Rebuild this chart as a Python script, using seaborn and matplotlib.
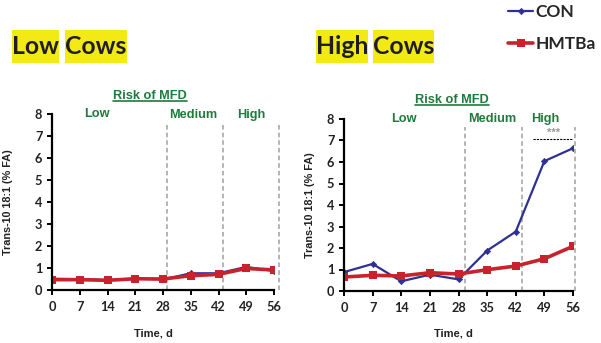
import matplotlib
matplotlib.use("Agg")
import matplotlib.pyplot as plt
from matplotlib.patches import Rectangle
from matplotlib.lines import Line2D
import numpy as np
import pandas as pd
import seaborn as sns

# ---- data -------------------------------------------------------------
days = [0, 7, 14, 21, 28, 35, 42, 49, 56]
groups = ["CON", "HMTBa"]

low_con = [0.51, 0.49, 0.45, 0.52, 0.48, 0.76, 0.76, 1.05, 0.86]
low_hmtba = [0.47, 0.47, 0.44, 0.51, 0.50, 0.65, 0.71, 0.98, 0.91]

high_con = [0.88, 1.26, 0.45, 0.76, 0.54, 1.88, 2.76, 6.04, 6.64]
high_hmtba = [0.65, 0.73, 0.70, 0.85, 0.79, 0.99, 1.16, 1.50, 2.08]

risk_labels = ["Low", "Medium", "High"]
xticks = days
yticks = list(range(0, 9))

# ---- style ------------------------------------------------------------
BLUE = "#2e3192"
RED = "#c8232c"
GREEN = "#1f7a3c"
YELLOW = "#f3ea15"
GREY = "#a0a0a0"
INK = "#222222"

sns.set_theme(style="white")
plt.rcParams["font.family"] = ["Lato", "DejaVu Sans"]
ARIAL = ["Liberation Sans", "DejaVu Sans"]

W, H = 601, 343
fig = plt.figure(figsize=(W / 100, H / 100), dpi=100)


def add_axes_px(x0, x1, ytop, ybot):
    return fig.add_axes([x0 / W, 1 - ybot / H, (x1 - x0) / W, (ybot - ytop) / H])


def frame(con, hmtba):
    return pd.DataFrame({
        "day": days * 2,
        "value": con + hmtba,
        "group": ["CON"] * len(days) + ["HMTBa"] * len(days),
    })


series_style = {
    "CON": dict(color=BLUE, marker="D", markersize=3.2, linewidth=1.6,
                markeredgewidth=0.5, markeredgecolor=BLUE),
    "HMTBa": dict(color=RED, marker="s", markersize=5.2, linewidth=2.6,
                  markeredgewidth=0, markeredgecolor=RED),
}

panels = [
    dict(ax=add_axes_px(52, 274, 114, 290), df=frame(low_con, low_hmtba),
         vlines=[29.0, 43.1, 57.3],
         region=[(11.3, 7.98), (35.6, 7.95), (50.2, 7.95)],
         ylab=(-0.176, 0.5), xlab=(0.455, -0.22), risk=(0.44, 1.10),
         stars=False),
    dict(ax=add_axes_px(344, 573, 119, 291), df=frame(high_con, high_hmtba),
         vlines=[29.5, 43.6, 56.6],
         region=[(14.6, 7.98), (36.3, 7.98), (49.2, 7.98)],
         ylab=(-0.127, 0.5), xlab=(0.476, -0.22), risk=(0.47, 1.11),
         stars=True),
]

risk_texts = []
for p in panels:
    ax = p["ax"]
    df = p["df"]
    for g in groups:
        sns.lineplot(data=df[df["group"] == g], x="day", y="value", ax=ax,
                     legend=False, label=g, **series_style[g])

    ax.set_xlim(0, 56)
    ax.set_ylim(0, 8)
    ax.set_xticks(xticks)
    ax.set_yticks(yticks)
    ax.set_xticklabels([str(d) for d in xticks], fontsize=9.2, fontweight="bold", color=INK)
    ax.set_yticklabels([str(v) for v in yticks], fontsize=9.2, fontweight="bold", color=INK)
    ax.tick_params(axis="both", which="both", bottom=True, left=True,
                   direction="out", length=3.5, width=1.4, color="black")
    ax.tick_params(axis="x", pad=4.5)
    ax.tick_params(axis="y", pad=3.5)
    sns.despine(ax=ax)
    for s in ("left", "bottom"):
        ax.spines[s].set_linewidth(1.6)
        ax.spines[s].set_color("black")

    ax.set_ylabel("Trans-10 18:1 (% FA)", fontsize=7.8, fontweight="bold",
                  color=INK, family=ARIAL)
    ax.set_xlabel("Time, d", fontsize=8, fontweight="bold", color=INK, family=ARIAL)
    ax.yaxis.set_label_coords(*p["ylab"])
    ax.xaxis.set_label_coords(*p["xlab"])

    # boundaries between the MFD risk periods
    for xv in p["vlines"]:
        ax.plot([xv, xv], [0, 7.65], color=GREY, lw=1.1, ls=(0, (3, 2)),
                clip_on=False, zorder=1)

    for (tx, ty), lab in zip(p["region"], risk_labels):
        ax.text(tx, ty, lab, ha="center", va="center", fontsize=9.2,
                fontweight="bold", color=GREEN, family=ARIAL, clip_on=False)

    t = ax.text(p["risk"][0], p["risk"][1], "Risk of MFD", transform=ax.transAxes,
                ha="center", va="center", fontsize=9.2, fontweight="bold",
                color=GREEN, family=ARIAL)
    risk_texts.append(t)

    if p["stars"]:
        ax.plot([46.3, 56], [7.05, 7.05], color="black", lw=0.8,
                ls=(0, (2, 1)), clip_on=False)
        ax.text(51.2, 7.35, "***", ha="center", va="center", fontsize=8,
                color="#999999", fontweight="bold", family=ARIAL)

# group titles with yellow highlight behind each word
title_words = [
    ("Low", 12, 59), ("Cows", 65, 127),
    ("High", 316, 368), ("Cows", 373, 434),
]
for word, x0, x1 in title_words:
    fig.patches.append(Rectangle((x0 / W, 1 - 63 / H), (x1 - x0) / W, 33 / H,
                                 transform=fig.transFigure, facecolor=YELLOW,
                                 edgecolor="none", zorder=0))
    fig.text((x0 + x1) / 2 / W, 1 - 47 / H, word, ha="center", va="center",
             fontsize=17.8, fontweight="bold", color="#1e1e1e")

# legend at the top right of the figure
handles = [Line2D([], [], **series_style[g]) for g in groups]
fig.legend(handles, groups, loc="upper left", bbox_to_anchor=(508 / W, 1 - 4 / H),
           frameon=False, prop=dict(family="Lato", weight="bold", size=12.5),
           handlelength=1.45, handletextpad=0.15, labelspacing=0.9,
           borderpad=0, borderaxespad=0)

# underline the "Risk of MFD" headings
fig.canvas.draw()
renderer = fig.canvas.get_renderer()
inv = fig.transFigure.inverted()
for t in risk_texts:
    bb = t.get_window_extent(renderer)
    (fx0, fy0), (fx1, fy1) = inv.transform([(bb.x0, bb.y0 + 1.5), (bb.x1, bb.y0 + 1.5)])
    fig.add_artist(Line2D([fx0, fx1], [fy0, fy1], transform=fig.transFigure,
                          color=GREEN, lw=1.2))

fig.savefig("out.png", dpi=100)
